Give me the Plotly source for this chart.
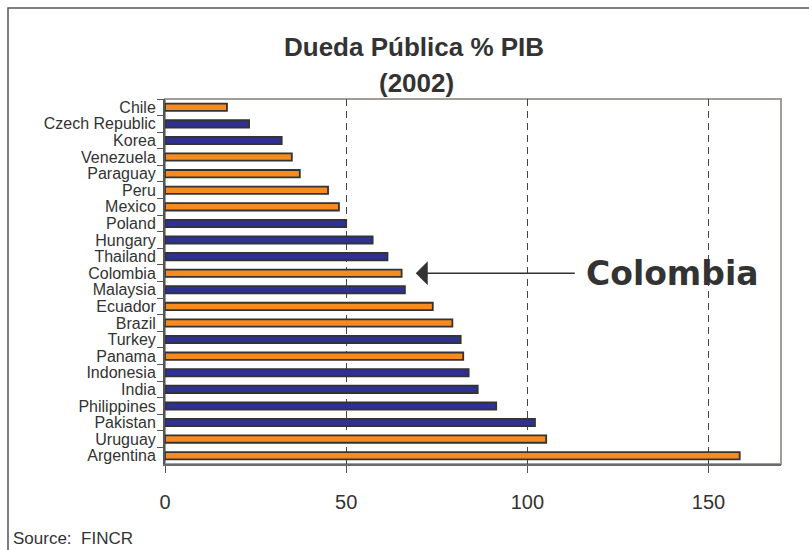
import plotly.graph_objects as go

countries = ["Chile", "Czech Republic", "Korea", "Venezuela", "Paraguay", "Peru", "Mexico",
             "Poland", "Hungary", "Thailand", "Colombia", "Malaysia", "Ecuador", "Brazil",
             "Turkey", "Panama", "Indonesia", "India", "Philippines", "Pakistan", "Uruguay",
             "Argentina"]
debt_pct_gdp = [17.1, 23.2, 32.2, 35.0, 37.2, 45.0, 48.0, 50.0, 57.3, 61.4, 65.3, 66.2,
                73.9, 79.3, 81.6, 82.3, 83.8, 86.3, 91.4, 102.1, 105.2, 158.6]
latam = {"Chile", "Venezuela", "Paraguay", "Peru", "Mexico", "Colombia", "Ecuador",
         "Brazil", "Panama", "Uruguay", "Argentina"}
x_ticks = [0, 50, 100, 150]

ORANGE = "#F68B1F"
BLUE = "#2E3092"
colors = [ORANGE if c in latam else BLUE for c in countries]

fig = go.Figure()
fig.add_trace(go.Bar(
    x=debt_pct_gdp, y=countries, orientation="h",
    marker=dict(color=colors, line=dict(color="#333333", width=1.8)),
    width=0.44, showlegend=False, hoverinfo="x+y",
))

font_main = "Liberation Sans, Arial, sans-serif"

fig.update_layout(
    width=809, height=550,
    margin=dict(l=165, r=28, t=99, b=86, autoexpand=False),
    paper_bgcolor="white", plot_bgcolor="white",
    font=dict(family=font_main, color="#333333"),
    bargap=0.5,
)

fig.update_xaxes(
    range=[0, 170], tickvals=x_ticks, ticktext=[str(v) for v in x_ticks],
    showgrid=True, gridcolor="#444444", gridwidth=1, griddash="7px,5px",
    zeroline=False,
    showline=True, linecolor="#6a6a6a", linewidth=2,
    ticks="outside", ticklen=7, tickcolor="#555555", tickwidth=1,
    tickfont=dict(size=20, family=font_main, color="#333333"),
    ticklabelstandoff=12,
)
fig.update_yaxes(
    type="category",
    categoryorder="array", categoryarray=countries,
    range=[len(countries) - 0.5, -0.5],
    tickmode="linear", tick0=0, dtick=1,
    showgrid=False, zeroline=False,
    showline=True, linecolor="#555555", linewidth=2,
    ticks="outside", ticklen=6, tickcolor="#555555", tickwidth=1,
    tickson="boundaries",
    tickfont=dict(size=16, family=font_main, color="#333333"),
    ticklabelstandoff=4,
)

# plot-area frame (top/right) and outer chart frame
fig.add_shape(type="rect", xref="paper", yref="paper", x0=0, y0=0, x1=1, y1=1,
              line=dict(color="#A39C97", width=2), layer="below")
fig.add_shape(type="rect", xref="paper", yref="paper",
              x0=(8 - 165) / 616, y0=(464 - 8) / 365, x1=1.2, y1=-0.4,
              line=dict(color="#555555", width=1.5))

# titles
fig.add_annotation(text="<b>Dueda Pública % PIB</b>", xref="paper", yref="paper",
                   x=(414 - 165) / 616, y=(464 - 46.5) / 365, xanchor="center", yanchor="middle",
                   showarrow=False, font=dict(size=26, family=font_main, color="#333333"))
fig.add_annotation(text="<b>(2002)</b>", xref="paper", yref="paper",
                   x=(416 - 165) / 616, y=(464 - 83) / 365, xanchor="center", yanchor="middle",
                   showarrow=False, font=dict(size=26, family=font_main, color="#333333"))

# Colombia callout
col_idx = countries.index("Colombia")
fig.add_annotation(x=69.2, y=col_idx, ax=113.5, ay=col_idx, xref="x", yref="y",
                   axref="x", ayref="y", text="", showarrow=True,
                   arrowhead=1, arrowsize=2.5, arrowwidth=1.6, arrowcolor="#333333")
fig.add_annotation(x=115.7, y=col_idx, xref="x", yref="y", text="<b>Colombia</b>",
                   showarrow=False, xanchor="left", yanchor="middle",
                   font=dict(size=33, family="DejaVu Sans, Verdana, sans-serif", color="#333333"))

# source
fig.add_annotation(text="Source:  FINCR", xref="paper", yref="paper",
                   x=(11 - 165) / 616, y=(464 - 538) / 365, xanchor="left", yanchor="middle",
                   showarrow=False, font=dict(size=17, family=font_main, color="#333333"))

fig.write_html("out.html", config={"displayModeBar": False})

# remove the browser's default page margin so the figure sits at the window origin
with open("out.html", "r", encoding="utf-8") as f:
    html = f.read()
html = html.replace("<head>", "<head><style>html,body{margin:0;padding:0;overflow:hidden;}</style>", 1)
with open("out.html", "w", encoding="utf-8") as f:
    f.write(html)
